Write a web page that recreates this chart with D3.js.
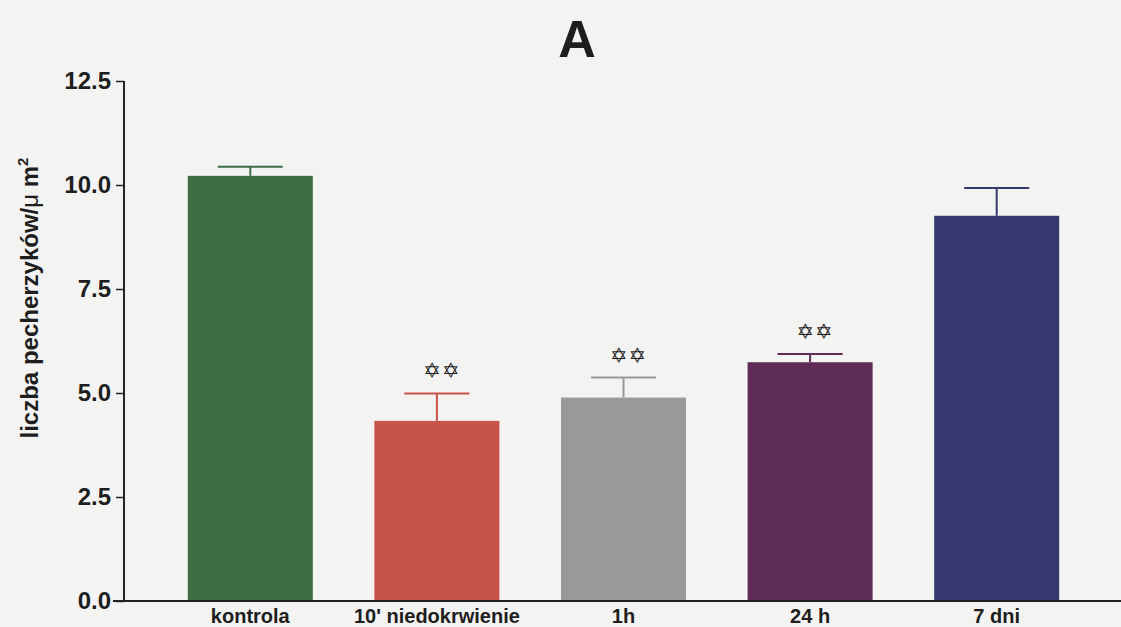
<!DOCTYPE html>
<html>
<head>
<meta charset="utf-8">
<script src="https://cdn.jsdelivr.net/npm/d3@7"></script>
<style>
  body { margin: 0; background: #f3f3f1; }
  svg { display: block; }
  text { font-family: "Liberation Sans", Arial, sans-serif; fill: #1e1e1e; }
</style>
</head>
<body>
<div id="chart"></div>
<script>
// data
const categories = ["kontrola", "10' niedokrwienie", "1h", "24 h", "7 dni"];
const means = [10.22, 4.33, 4.89, 5.74, 9.26];
const errors = [0.22, 0.66, 0.48, 0.20, 0.67];
const significant = [false, true, true, true, false];
const barColors = ["#3d6c45", "#c8534a", "#9a9998", "#5d2b56", "#35386f"];
const yTicks = [0, 2.5, 5, 7.5, 10, 12.5];

const W = 1121, H = 627;
const svg = d3.select("#chart").append("svg")
    .attr("width", W)
    .attr("height", H);

const x = d3.scaleBand()
    .domain(categories)
    .range([157, 1090])
    .paddingInner(0.33)
    .paddingOuter(0.165);

const y = d3.scaleLinear()
    .domain([0, 12.5])
    .range([601, 81]);

// bars
svg.selectAll("rect.bar")
    .data(categories)
    .enter()
    .append("rect")
    .attr("class", "bar")
    .attr("x", d => x(d))
    .attr("y", (d, i) => y(means[i]))
    .attr("width", x.bandwidth())
    .attr("height", (d, i) => y(0) - y(means[i]))
    .style("fill", (d, i) => barColors[i]);

// error bars (upper only)
const capW = x.bandwidth() * 0.52;
const err = svg.selectAll("g.err")
    .data(categories)
    .enter()
    .append("g")
    .attr("class", "err")
    .style("stroke", (d, i) => barColors[i])
    .style("stroke-width", 2);

err.append("line")
    .attr("x1", d => x(d) + x.bandwidth() / 2)
    .attr("x2", d => x(d) + x.bandwidth() / 2)
    .attr("y1", (d, i) => y(means[i]))
    .attr("y2", (d, i) => y(means[i] + errors[i]));

err.append("line")
    .attr("x1", d => x(d) + x.bandwidth() / 2 - capW / 2)
    .attr("x2", d => x(d) + x.bandwidth() / 2 + capW / 2)
    .attr("y1", (d, i) => y(means[i] + errors[i]))
    .attr("y2", (d, i) => y(means[i] + errors[i]));

// significance marks
svg.selectAll("text.star")
    .data(categories.filter((d, i) => significant[i]))
    .enter()
    .append("text")
    .attr("class", "star")
    .attr("x", d => x(d) + x.bandwidth() / 2 + 5)
    .attr("y", d => {
        const i = categories.indexOf(d);
        return y(means[i] + errors[i]) - 15;
    })
    .attr("text-anchor", "middle")
    .style("font-family", "DejaVu Sans")
    .style("font-size", "21px")
    .style("letter-spacing", "1px")
    .attr("fill", "#333")
    .text("\u2721\u2721");

// y axis
const yAxis = d3.axisLeft(y)
    .tickValues(yTicks)
    .tickFormat(d3.format(".1f"))
    .tickSize(8)
    .tickPadding(5);

svg.append("g")
    .attr("transform", "translate(124,0)")
    .call(yAxis)
    .call(g => g.select(".domain").attr("stroke", "#222").attr("stroke-width", 2).attr("d", "M0,81V601"))
    .call(g => g.selectAll(".tick line").attr("stroke", "#222").attr("stroke-width", 1.5))
    .call(g => g.selectAll(".tick text")
        .style("font-size", "24px")
        .style("font-weight", "bold")
        .style("font-family", "Liberation Sans, Arial, sans-serif")
        .attr("fill", "#1e1e1e"));

// x axis
const xAxis = d3.axisBottom(x).tickSize(0).tickPadding(8);
svg.append("g")
    .attr("transform", "translate(0,601)")
    .call(xAxis)
    .call(g => g.select(".domain").attr("stroke", "#222").attr("stroke-width", 2).attr("d", "M113,0H1121"))
    .call(g => g.selectAll(".tick text")
        .style("font-size", "20px")
        .style("font-weight", "bold")
        .style("font-family", "Liberation Sans, Arial, sans-serif")
        .attr("fill", "#1e1e1e"));

// title
svg.append("text")
    .attr("x", 577)
    .attr("y", 57)
    .attr("text-anchor", "middle")
    .style("font-size", "52px")
    .style("font-weight", "bold")
    .text("A");

// y label
const yl = svg.append("text")
    .attr("transform", "translate(38,298) rotate(-90)")
    .attr("text-anchor", "middle")
    .style("font-size", "24px")
    .style("font-weight", "bold");
yl.append("tspan").text("liczba pecherzyków/");
yl.append("tspan").style("font-weight", "normal").text("\u03bc ");
yl.append("tspan").text("m");
yl.append("tspan").attr("dy", -10).style("font-size", "15px").text("2");
</script>
</body>
</html>
